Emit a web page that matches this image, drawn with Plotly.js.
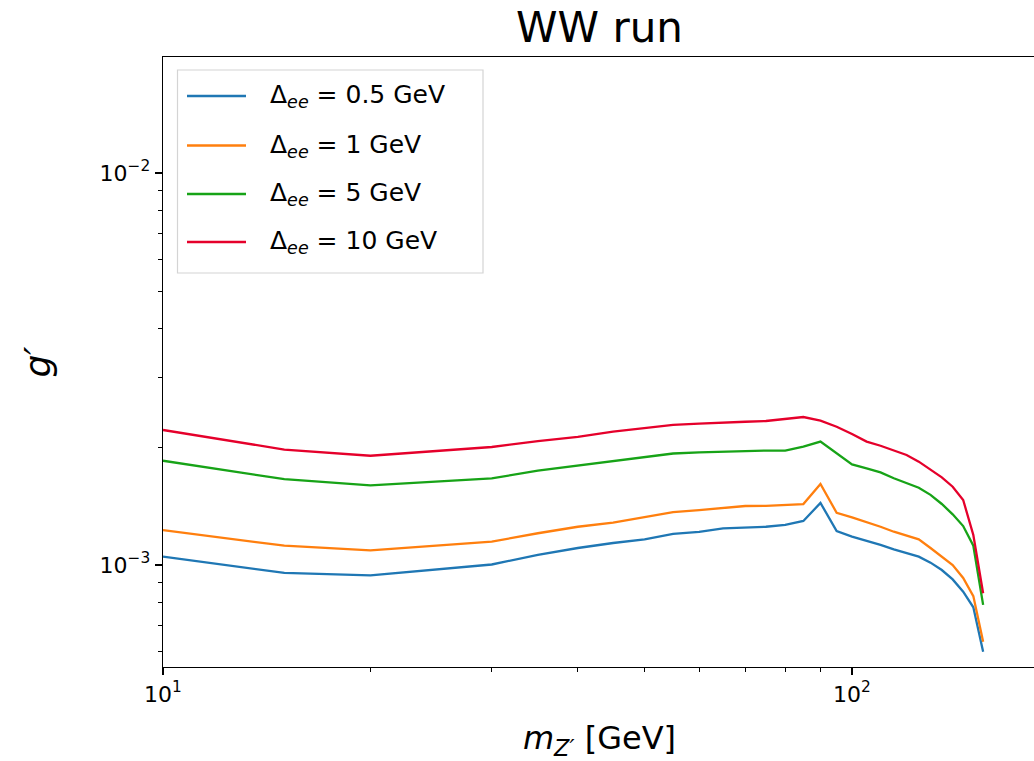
<!DOCTYPE html>
<html>
<head>
<meta charset="utf-8">
<script src="https://cdn.plot.ly/plotly-3.0.1.min.js"></script>
<style>
  html, body { margin: 0; padding: 0; overflow: hidden; background: #fff; }
  #chart { width: 1040px; height: 761px; }
</style>
</head>
<body>
<div id="chart"></div>
<script>
// Z' mass points [GeV]
const massGeV = [10, 15, 20, 30, 35, 40, 45, 50, 55, 60, 65, 70, 75, 80, 85, 90, 95,
                 100, 105, 110, 115, 120, 125, 130, 135, 140, 145, 150, 155];

// coupling limit g' for each beam energy spread
const gDelta05 = [1.050e-3, 0.955e-3, 0.941e-3, 1.003e-3, 1.062e-3, 1.105e-3, 1.138e-3, 1.163e-3, 1.200e-3,
                  1.215e-3, 1.240e-3, 1.245e-3, 1.252e-3, 1.265e-3, 1.295e-3, 1.440e-3, 1.220e-3,
                  1.181e-3, 1.153e-3, 1.125e-3, 1.096e-3, 1.071e-3, 1.050e-3, 1.014e-3, 0.971e-3,
                  0.919e-3, 0.855e-3, 0.780e-3, 0.601e-3];
const gDelta1  = [1.228e-3, 1.120e-3, 1.090e-3, 1.147e-3, 1.205e-3, 1.252e-3, 1.282e-3, 1.323e-3, 1.365e-3,
                  1.380e-3, 1.400e-3, 1.414e-3, 1.416e-3, 1.422e-3, 1.430e-3, 1.609e-3, 1.359e-3,
                  1.323e-3, 1.289e-3, 1.252e-3, 1.216e-3, 1.186e-3, 1.163e-3, 1.105e-3, 1.050e-3,
                  1.000e-3, 0.927e-3, 0.833e-3, 0.637e-3];
const gDelta5  = [1.845e-3, 1.655e-3, 1.596e-3, 1.664e-3, 1.740e-3, 1.792e-3, 1.842e-3, 1.883e-3, 1.925e-3,
                  1.937e-3, 1.945e-3, 1.954e-3, 1.958e-3, 1.958e-3, 2.004e-3, 2.064e-3, 1.930e-3,
                  1.805e-3, 1.764e-3, 1.723e-3, 1.664e-3, 1.616e-3, 1.575e-3, 1.510e-3, 1.431e-3,
                  1.347e-3, 1.257e-3, 1.120e-3, 0.791e-3];
const gDelta10 = [2.210e-3, 1.970e-3, 1.900e-3, 2.000e-3, 2.070e-3, 2.122e-3, 2.188e-3, 2.233e-3, 2.277e-3,
                  2.295e-3, 2.312e-3, 2.320e-3, 2.330e-3, 2.353e-3, 2.385e-3, 2.335e-3, 2.253e-3,
                  2.158e-3, 2.064e-3, 2.015e-3, 1.957e-3, 1.908e-3, 1.835e-3, 1.755e-3, 1.674e-3,
                  1.584e-3, 1.465e-3, 1.193e-3, 0.847e-3];

const seriesLabels = [
  'Δ<sub><i>ee</i></sub> = 0.5 GeV',
  'Δ<sub><i>ee</i></sub> = 1 GeV',
  'Δ<sub><i>ee</i></sub> = 5 GeV',
  'Δ<sub><i>ee</i></sub> = 10 GeV'
];
const seriesValues = [gDelta05, gDelta1, gDelta5, gDelta10];
const seriesColors = ['#1f77b4', '#ff7f0e', '#17a317', '#e5002b'];

// axis ticks
const xMajorTicks = [10, 100];
const xMajorText = ['10<sup>1</sup>', '10<sup>2</sup>'];
const xMinorTicks = [20, 30, 40, 50, 60, 70, 80, 90];
const yMajorTicks = [1e-3, 1e-2];
const yMajorText = ['10<sup>−3</sup>', '10<sup>−2</sup>'];
const yMinorTicks = [6e-4, 7e-4, 8e-4, 9e-4, 2e-3, 3e-3, 4e-3, 5e-3, 6e-3, 7e-3, 8e-3, 9e-3];

const FONT = 'DejaVu Sans, Verdana, sans-serif';

// plot-area geometry in pixels
const W = 1040, H = 761;
const M = { l: 163, t: 57, r: 4, b: 94 };
const plotW = W - M.l - M.r, plotH = H - M.t - M.b;
const px2x = px => (px - M.l) / plotW;
const px2y = py => (H - M.b - py) / plotH;

const traces = seriesValues.map((vals, i) => ({
  type: 'scatter',
  mode: 'lines',
  x: massGeV,
  y: vals,
  name: seriesLabels[i],
  line: { color: seriesColors[i], width: 2.3 },
  showlegend: false,
  hoverinfo: 'skip'
}));

// legend box drawn on the paper
const legendRows = [96, 145.5, 194, 242];
const shapes = [{
  type: 'rect', xref: 'paper', yref: 'paper',
  x0: px2x(177.5), x1: px2x(483), y0: px2y(273), y1: px2y(70),
  line: { color: '#d4d4d4', width: 1.2 },
  fillcolor: 'rgba(255,255,255,0.85)',
  layer: 'above'
}];
const annotations = [];
seriesLabels.forEach((lab, i) => {
  shapes.push({
    type: 'line', xref: 'paper', yref: 'paper',
    x0: px2x(187), x1: px2x(246), y0: px2y(legendRows[i]), y1: px2y(legendRows[i]),
    line: { color: seriesColors[i], width: 2.3 },
    layer: 'above'
  });
  annotations.push({
    xref: 'paper', yref: 'paper',
    x: px2x(268), y: px2y(legendRows[i]),
    xanchor: 'left', yanchor: 'middle',
    text: lab, showarrow: false,
    font: { family: FONT, size: 25, color: '#000' }
  });
});

const axisCommon = {
  type: 'log',
  showgrid: false,
  zeroline: false,
  showline: true,
  linecolor: '#000',
  linewidth: 1.3,
  mirror: true,
  ticks: 'outside',
  ticklen: 7,
  tickwidth: 1.3,
  tickcolor: '#000',
  tickmode: 'array',
  tickfont: { family: FONT, size: 22, color: '#000' }
};

const layout = {
  width: W, height: H,
  margin: M,
  paper_bgcolor: '#fff',
  plot_bgcolor: '#fff',
  showlegend: false,
  title: {
    text: 'WW run',
    font: { family: FONT, size: 42, color: '#000' },
    x: 0.5, xref: 'paper',
    y: 1 - 27 / H, yref: 'container', yanchor: 'middle'
  },
  xaxis: Object.assign({}, axisCommon, {
    range: [1, 1 + plotW / 689],
    tickvals: xMajorTicks,
    ticktext: xMajorText,
    minor: { tickmode: 'array', tickvals: xMinorTicks, ticks: 'outside', ticklen: 4, tickwidth: 1, tickcolor: '#000', showgrid: false },
    title: { text: '<i>m</i><sub><i>Z′</i></sub> [GeV]', font: { family: FONT, size: 32, color: '#000' }, standoff: 24 }
  }),
  yaxis: Object.assign({}, axisCommon, {
    range: [-3 - 102 / 392, -2 + 116 / 392],
    tickvals: yMajorTicks,
    ticktext: yMajorText,
    minor: { tickmode: 'array', tickvals: yMinorTicks, ticks: 'outside', ticklen: 4, tickwidth: 1, tickcolor: '#000', showgrid: false },
    title: { text: '<i>g′</i>', font: { family: FONT, size: 36, color: '#000' }, standoff: 38 }
  }),
  shapes: shapes,
  annotations: annotations
};

Plotly.newPlot('chart', traces, layout, { displayModeBar: false, staticPlot: true });
</script>
</body>
</html>
